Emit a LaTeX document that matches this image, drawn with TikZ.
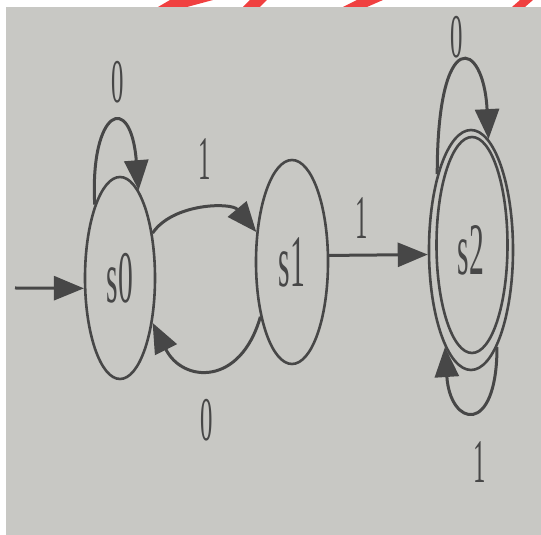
\documentclass[tikz,border=0pt]{standalone}
\usepackage{fontspec}
\setmainfont{Liberation Serif}
\usetikzlibrary{shapes.geometric,arrows.meta}
\definecolor{paper}{HTML}{C8C8C4}
\definecolor{ink}{HTML}{474747}
\definecolor{redmark}{HTML}{F04040}
\newcommand{\thin}[1]{\scalebox{0.4}[1]{#1}}

\begin{document}
\begin{tikzpicture}[x=1pt,y=1pt,
		state/.style={draw=ink, line width=2.6pt, ellipse, inner sep=0pt, text=ink, font=\fontsize{74}{74}\selectfont},
		edge/.style={draw=ink, line width=3pt, -{Triangle[length=30pt,width=24pt]}},
		lbl/.style={text=ink, inner sep=0pt, font=\fontsize{62}{62}\selectfont}]
		\useasboundingbox (0,0) rectangle (541,535);

		% Paper background
		\fill[paper] (6,0) rectangle (541,528);

		% Red marks at the top edge
		\fill[redmark] (158,528) -- (187,528) -- (213,535) -- (170,535) -- cycle;
		\fill[redmark] (243,528) -- (260,528) -- (267,535) -- (250,535) -- cycle;
		\fill[redmark] (343,528) -- (367,528) -- (383,535) -- (357,535) -- cycle;
		\fill[redmark] (512,528) -- (525,528) -- (533,535) -- (520,535) -- cycle;

		% Draw the states
		\node[state, minimum width=70pt, minimum height=202pt] (s0) at (120,257) {\thin{s0}};
		\node[state, minimum width=72pt, minimum height=204pt] (s1) at (292,273) {\thin{s1}};
		\node[state, minimum width=84pt, minimum height=240pt] (s2) at (471,285) {\thin{s2}};
		\node[state, minimum width=71pt, minimum height=216pt] (s2in) at (472,290) {};

		% Start arrow
		\coordinate (start) at (15,247);
		\draw[edge] (start) -- (s0.196);

		% Transitions between states
		\draw[edge] (s0.54) .. controls +(20,30) and +(-25,30) .. (s1.140);
		\draw[edge] (s1.240) .. controls +(-20,-70) and +(30,-60) .. (s0.306);
		\draw[edge] (s1.10) -- (s2.186);

		% Self loops
		\draw[edge] (s0.109) .. controls +(-5,95) and +(-8,100) .. (s0.78);
		\draw[edge] (s2.114) .. controls +(0,150) and +(-5,100) .. (s2.81);
		\draw[edge] (s2.285) .. controls +(0,-90) and +(5,-80) .. (s2.255);

		% Input labels
		\node[lbl] (l00) at (118,453) {\thin{0}};
		\node[lbl] (l01) at (205,376) {\thin{1}};
		\node[lbl] (l10) at (207,115) {\thin{0}};
		\node[lbl] (l12) at (362,317) {\thin{1}};
		\node[lbl] (l22) at (457,498) {\thin{0}};
		\node[lbl] (l22b) at (480,73) {\thin{1}};
	\end{tikzpicture}
\end{document}
